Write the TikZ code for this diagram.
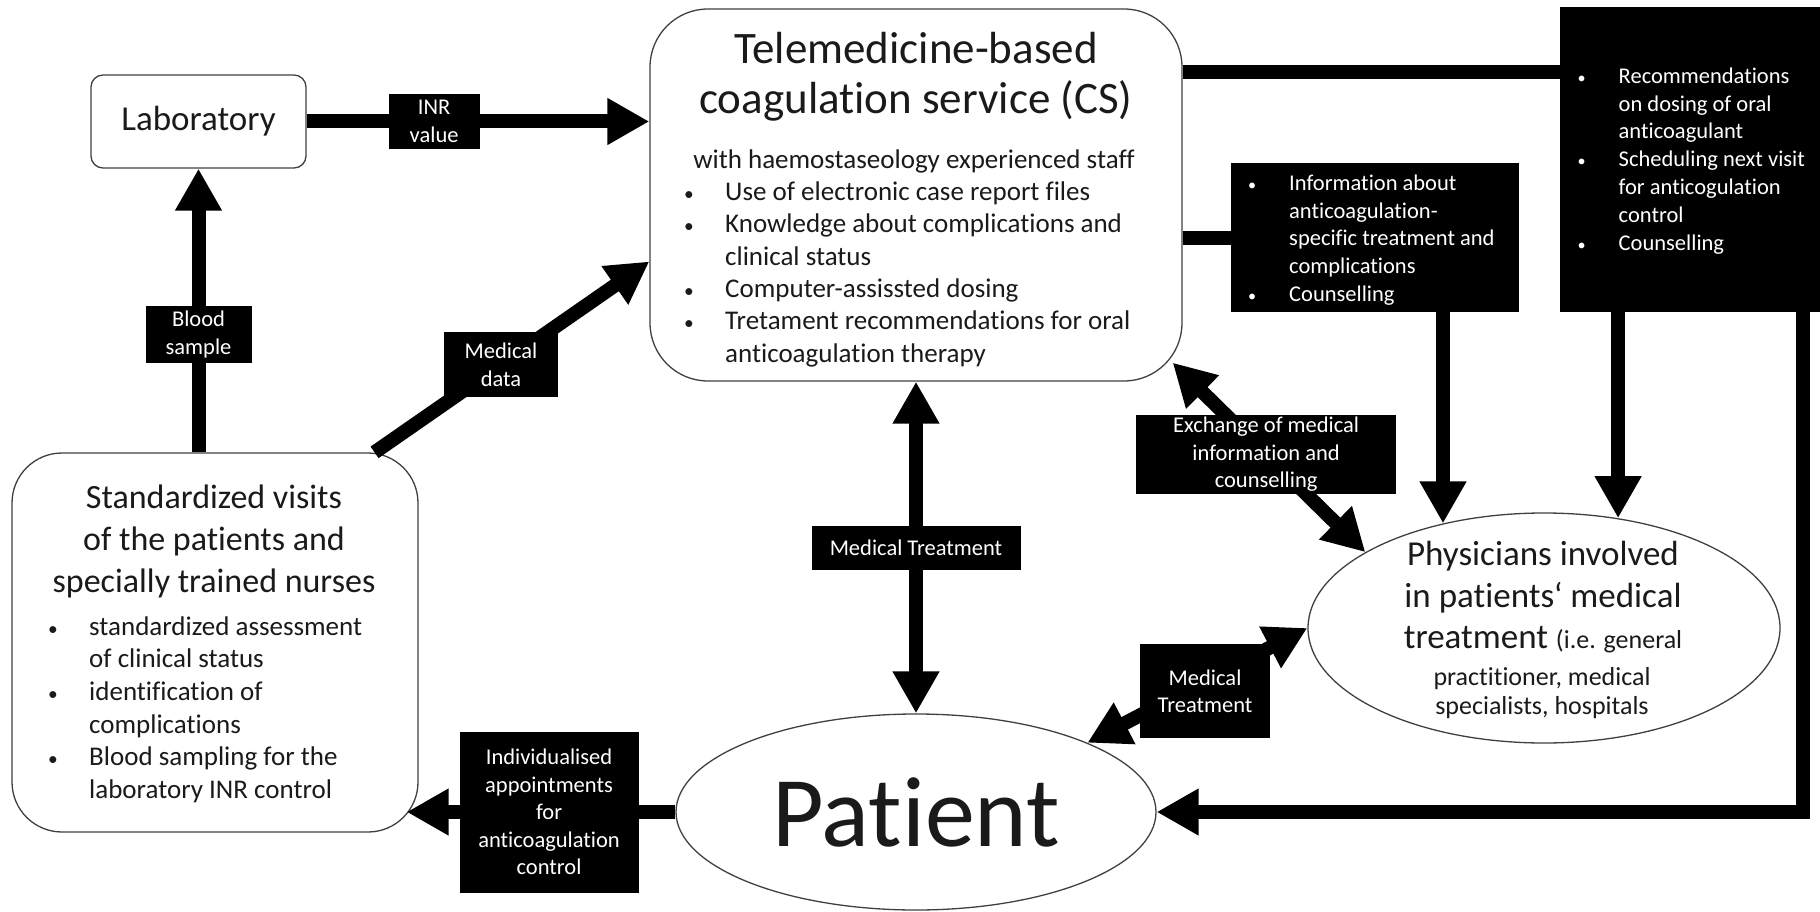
\documentclass[tikz,border=0pt]{standalone}
\usepackage{fontspec}
\setmainfont{Carlito}[Ligatures=NoCommon]
\usetikzlibrary{arrows.meta,positioning,calc,shapes.geometric}
\definecolor{inkgray}{HTML}{1A1A1A}
\definecolor{rimgray}{HTML}{404040}
\tikzset{
  roundbox/.style={draw=rimgray, fill=white, line width=1.3pt, inner sep=0pt,
    text=inkgray},
  oval/.style={roundbox, ellipse},
  % black panels and the labels sitting on the arrows
  panel/.style={fill=black, inner sep=0pt},
  tag/.style={fill=black, text=white, inner sep=2pt, align=center,
    font=\fontsize{22.5}{27.5}\selectfont},
  txt/.style={inner sep=0pt, text=inkgray},
  paneltxt/.style={inner sep=0pt, text=white, align=left,
    font=\fontsize{22.5}{27.8}\selectfont},
  flow/.style={-{Triangle[length=42pt,width=44pt]}, line width=14pt},
  twoway/.style={{Triangle[length=42pt,width=44pt]}-{Triangle[length=42pt,width=44pt]},
    line width=14pt},
  link/.style={line width=14pt},
}
\newcommand{\bul}{\makebox[41pt][l]{\scalebox{0.72}{\textbullet}}}
\newcommand{\bulgap}{\hspace*{41pt}}

\begin{document}
\begin{tikzpicture}[x=1pt,y=-1pt]
  \useasboundingbox (0,0) rectangle (1820,912);
  % main boxes
  \node[roundbox, rounded corners=12pt, minimum width=215pt, minimum height=93pt,
    font=\fontsize{35}{42}\selectfont] (lab) at (198.5,121.5) {Laboratory};
  \node[roundbox, rounded corners=58pt, minimum width=532pt, minimum height=372pt]
    (cs) at (916,195) {};
  \node[roundbox, rounded corners=50pt, minimum width=406pt, minimum height=379pt]
    (visits) at (215,642.5) {};
  \node[oval, minimum width=480pt, minimum height=196pt,
    font=\fontsize{100}{120}\selectfont] (patient) at (916,812) {Patient};
  \node[oval, minimum width=472pt, minimum height=230pt] (physicians) at (1544,628) {};
  \node[panel, minimum width=288pt, minimum height=149pt] (info) at (1375,237.5) {};
  \node[panel, minimum width=260pt, minimum height=305pt] (rec) at (1690,159.5) {};

  % texts of the coagulation service
  \node[txt, anchor=north, align=center, font=\fontsize{45}{50}\selectfont]
    (cstitle) at (916,32) {Telemedicine-based\\coagulation service (CS)};
  \node[txt, anchor=north, font=\fontsize{27}{32.4}\selectfont]
    (csstaff) at (914,149.5) {with haemostaseology experienced staff};
  \node[txt, anchor=north west, align=left, font=\fontsize{27}{32.4}\selectfont]
    (cslist) at (684,181.4) {\bul Use of electronic case report files\\
      \bul Knowledge about complications and\\ \bulgap clinical status\\
      \bul Computer-assissted dosing\\
      \bul Tretament recommendations for oral\\ \bulgap anticoagulation therapy};

  % texts of the visits
  \node[txt, anchor=north, align=center, font=\fontsize{34}{42}\selectfont]
    (vtitle) at (214,484.5) {Standardized visits\\of the patients and\\specially trained nurses};
  \node[txt, anchor=north west, align=left, font=\fontsize{27}{32.6}\selectfont]
    (vlist) at (48,616.4) {\bul standardized assessment\\ \bulgap of clinical status\\
      \bul identification of\\ \bulgap complications\\
      \bul Blood sampling for the\\ \bulgap laboratory INR control};

  % texts of the physicians
  \node[txt, anchor=north, align=center, font=\fontsize{35}{41.5}\selectfont]
    (phytitle) at (1543,541) {Physicians involved\\in patients‘ medical\\
      treatment {\fontsize{26}{29.5}\selectfont (i.e. general}};
  \node[txt, anchor=north, align=center, font=\fontsize{26}{29.5}\selectfont]
    (phynote) at (1542,667) {practitioner, medical\\specialists, hospitals};

  % texts of the black panels
  \node[paneltxt, anchor=north west] (infolist) at (1248,174.5)
    {\bul Information about\\ \bulgap anticoagulation-\\
      \bulgap specific treatment and\\ \bulgap complications\\ \bul Counselling};
  \node[paneltxt, anchor=north west] (reclist) at (1577.5,67.5)
    {\bul Recommendations\\ \bulgap on dosing of oral\\ \bulgap anticoagulant\\
      \bul Scheduling next visit\\ \bulgap for anticogulation\\ \bulgap control\\
      \bul Counselling};

  % connectors with their labels
  \draw[flow] (lab.east) -- node[tag, pos=.372, minimum width=91pt, minimum height=55pt]
    (inr) {INR\\value} (lab.east -| cs.west);
  \draw[flow] (visits.north -| lab.south) -- node[tag, pos=.416, minimum width=106pt,
    minimum height=57pt] (blood) {Blood\\sample} (lab.south);
  \draw[flow] (visits.50) -- node[tag, pos=.46, minimum width=114pt, minimum height=65pt]
    (meddata) {Medical\\data} (cs.194);
  \draw[twoway] (cs.south) -- node[tag, pos=.5, minimum width=209pt, minimum height=44pt]
    (treat) {Medical Treatment} (patient.north);
  \draw[twoway] ($(cs.south east)+(-10,-19)$) -- node[tag, pos=.485, minimum width=260pt,
    minimum height=78pt] (exch) {Exchange of medical\\information and\\counselling}
    (physicians.157);
  \draw[twoway] (patient.22) -- node[tag, pos=.535, yshift=-10pt, minimum width=130pt,
    minimum height=94pt] (treat2) {Medical\\Treatment} (physicians.west);
  \draw[flow, shorten >=-12pt] (patient.west) -- node[tag, pos=.492, minimum width=179pt,
    minimum height=161pt] (appt)
    {Individualised\\appointments\\for\\anticoagulation\\control} (visits.east |- patient.west);

  % feeds from the service to the panels and on to physicians and patient
  \coordinate (recin) at ($(rec.north west)+(0,65)$);
  \draw[link] (cs.east |- recin) -- (recin);
  \draw[link] (cs.east |- info.west) -- (info.west);
  \draw[flow] (info.south -| physicians.134) -- (physicians.134);
  \draw[flow] (rec.south -| physicians.56) -- (physicians.56);
  \draw[flow] ($(rec.south east)+(-17,0)$) |- (patient.east);
\end{tikzpicture}
\end{document}
